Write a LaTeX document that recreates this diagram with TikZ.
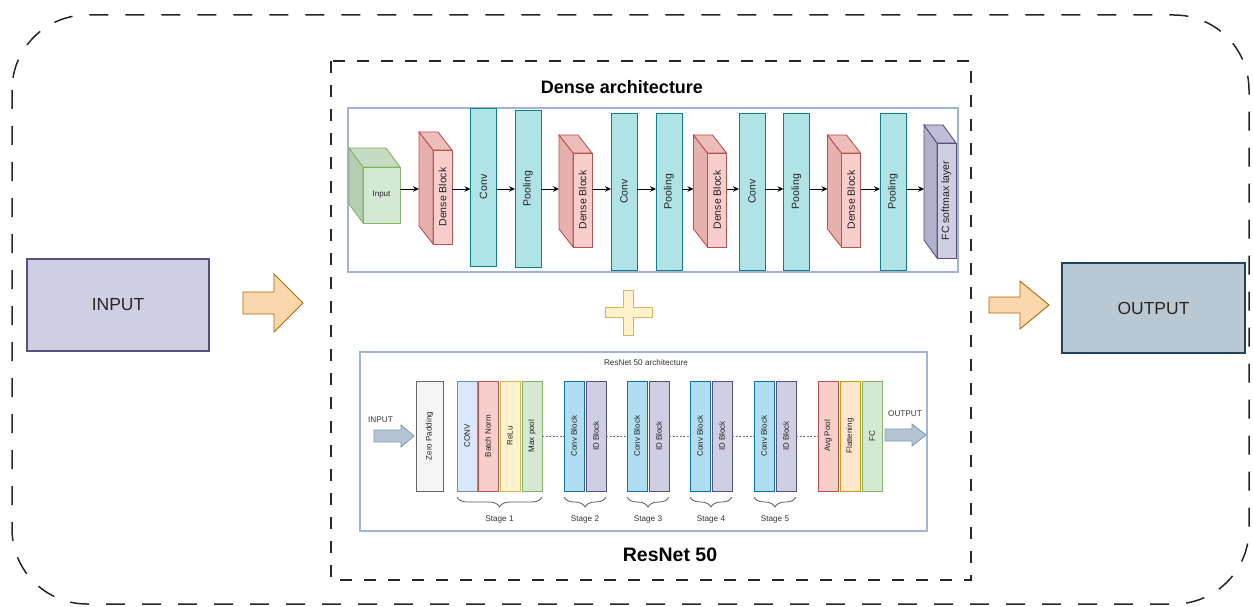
\documentclass[tikz,border=0pt]{standalone}
\usepackage{fontspec}
\setmainfont{Liberation Sans}
\usetikzlibrary{arrows.meta,calc,decorations.pathreplacing}

\definecolor{dbFill}{HTML}{F8CECC}\definecolor{dbLine}{HTML}{B85450}
\definecolor{dbSide}{HTML}{E6B0AD}\definecolor{dbTop}{HTML}{EDBDBA}
\definecolor{grnFill}{HTML}{D5E8D4}\definecolor{grnLine}{HTML}{82B366}
\definecolor{grnSide}{HTML}{B7CDB2}\definecolor{grnTop}{HTML}{C6DCC2}
\definecolor{purFill}{HTML}{D0CEE2}\definecolor{purLine}{HTML}{56517E}
\definecolor{purSide}{HTML}{B3B0CC}\definecolor{purTop}{HTML}{C0BDD8}
\definecolor{tealFill}{HTML}{B0E3E6}\definecolor{tealLine}{HTML}{0E8088}
\definecolor{slateFill}{HTML}{BAC8D3}\definecolor{slateLine}{HTML}{23445D}
\definecolor{orgFill}{HTML}{FAD7AC}\definecolor{orgLine}{HTML}{B46504}
\definecolor{ylwFill}{HTML}{FFF2CC}\definecolor{ylwLine}{HTML}{D6B656}
\definecolor{bluFill}{HTML}{DAE8FC}\definecolor{bluLine}{HTML}{6C8EBF}
\definecolor{cyanFill}{HTML}{B1DDF0}\definecolor{cyanLine}{HTML}{10739E}
\definecolor{greyFill}{HTML}{F5F5F5}\definecolor{greyLine}{HTML}{666666}
\definecolor{peachFill}{HTML}{FFE6CC}\definecolor{peachLine}{HTML}{D79B00}
\definecolor{panelLine}{HTML}{9DB5D8}
\definecolor{arrowFill}{HTML}{B4C4D2}\definecolor{arrowLine}{HTML}{7D97AD}
\definecolor{txt}{HTML}{222222}

\tikzset{
  outerframe/.style={draw=black!85, line width=1.5pt, dash pattern=on 19pt off 17pt, rounded corners=75pt},
  innerframe/.style={draw=black!85, line width=1.3pt, dash pattern=on 12pt off 12pt},
  panel/.style={draw=panelLine, line width=1.1pt},
  face/.style={rectangle, inner sep=0pt, outer sep=0pt, line width=0.9pt, text=txt,
    font=\fontsize{10.5}{12}\selectfont},
  slab/.style={face, fill=tealFill, draw=tealLine, minimum width=26},
  rblk/.style={rectangle, inner sep=0pt, outer sep=0pt, line width=0.8pt, text=txt,
    minimum width=20, minimum height=110, font=\fontsize{8}{9}\selectfont},
  bigbox/.style={rectangle, inner sep=0pt, outer sep=0pt, line width=1.1pt, text=black!85,
    font=\fontsize{17.5}{20}\selectfont},
  arr/.style={draw=black, line width=0.9pt, -{Stealth[length=6pt,width=5.5pt]}},
  dots/.style={draw=black!55, line width=0.8pt, dash pattern=on 2pt off 1.5pt},
  brc/.style={draw=black!65, line width=0.8pt, decorate,
    decoration={brace, mirror, amplitude=10pt}},
  small/.style={text=black!80, font=\fontsize{8.2}{10}\selectfont, inner sep=0pt},
  title/.style={text=black, font=\fontsize{18}{21}\bfseries\selectfont, inner sep=0pt},
}

% #1 name, #2 centre, #3 width, #4 height, #5 depth offset, #6 colour prefix, #7 text
\newcommand\cuboid[7]{%
  \node[face, fill=#6Fill, draw=#6Line, minimum width=#3, minimum height=#4] (#1) at (#2) {#7};
  \draw[face, fill=#6Side, draw=#6Line] (#1.north west) -- ($(#1.north west)+(#5)$)
    -- ($(#1.south west)+(#5)$) -- (#1.south west) -- cycle;
  \draw[face, fill=#6Top, draw=#6Line] (#1.north west) -- ($(#1.north west)+(#5)$)
    -- ($(#1.north east)+(#5)$) -- (#1.north east) -- cycle;
  \coordinate (#1-back) at ($(#1.west)+(#5)$);
}

\begin{document}
\begin{tikzpicture}[x=1pt, y=-1pt]
\useasboundingbox (0,0) rectangle (1253,607);

% frames
\draw[outerframe] (12,15) rectangle (1249,604);
\draw[innerframe] (331,61) rectangle (971,580);

% input and output
\node[bigbox, fill=purFill, draw=purLine, minimum width=182, minimum height=92] (in) at (118,305) {INPUT};
\node[bigbox, fill=slateFill, draw=slateLine, minimum width=183, minimum height=90] (out) at (1153.5,308) {OUTPUT};

\draw[fill=orgFill, draw=orgLine, line width=0.9pt, line join=miter]
  (243,292) -- (274,292) -- (274,274) -- (303,303) -- (274,332) -- (274,314) -- (243,314) -- cycle;
\draw[fill=orgFill, draw=orgLine, line width=0.9pt, line join=miter]
  (989,297) -- (1020,297) -- (1020,281) -- (1049,305) -- (1020,329) -- (1020,313) -- (989,313) -- cycle;

% plus sign
\draw[fill=ylwFill, draw=ylwLine, line width=0.9pt]
  (623,290) -- (633,290) -- (633,307) -- (652,307) -- (652,317) -- (633,317) -- (633,335)
  -- (623,335) -- (623,317) -- (605,317) -- (605,307) -- (623,307) -- cycle;

% ---------------- Dense architecture ----------------
\node[title] (dtitle) at (622,87) {Dense architecture};
\draw[panel] (348,108) rectangle (958,272);

\cuboid{inp}{381.5,195}{37}{56}{-14,-19}{grn}{\fontsize{8}{10}\selectfont Input}
\cuboid{db1}{442.5,197}{19}{94}{-14,-18}{db}{\rotatebox{90}{Dense Block}}
\node[slab, minimum height=158] (conv1) at (483.5,187) {\rotatebox{90}{Conv}};
\node[slab, minimum height=157] (pool1) at (528,188.5) {\rotatebox{90}{Pooling}};
\cuboid{db2}{582.5,200}{19}{94}{-14,-18}{db}{\rotatebox{90}{Dense Block}}
\node[slab, minimum height=157] (conv2) at (624,191.5) {\rotatebox{90}{Conv}};
\node[slab, minimum height=157] (pool2) at (669,191.5) {\rotatebox{90}{Pooling}};
\cuboid{db3}{717,200}{19}{94}{-14,-18}{db}{\rotatebox{90}{Dense Block}}
\node[slab, minimum height=157] (conv3) at (752,191.5) {\rotatebox{90}{Conv}};
\node[slab, minimum height=157] (pool3) at (796.5,191.5) {\rotatebox{90}{Pooling}};
\cuboid{db4}{851,200}{19}{94}{-14,-18}{db}{\rotatebox{90}{Dense Block}}
\node[slab, minimum height=157] (pool4) at (893,191.5) {\rotatebox{90}{Pooling}};
\cuboid{fc}{946.5,200.5}{19}{115}{-13,-18}{pur}{\rotatebox{90}{FC softmax layer}}

\coordinate (row) at (0,189);
\draw[arr] (inp.east |- row) -- (db1-back |- row);
\draw[arr] (db1.east |- row) -- (conv1.west |- row);
\draw[arr] (conv1.east |- row) -- (pool1.west |- row);
\draw[arr] (pool1.east |- row) -- (db2-back |- row);
\draw[arr] (db2.east |- row) -- (conv2.west |- row);
\draw[arr] (conv2.east |- row) -- (pool2.west |- row);
\draw[arr] (pool2.east |- row) -- (db3-back |- row);
\draw[arr] (db3.east |- row) -- (conv3.west |- row);
\draw[arr] (conv3.east |- row) -- (pool3.west |- row);
\draw[arr] (pool3.east |- row) -- (db4-back |- row);
\draw[arr] (db4.east |- row) -- (pool4.west |- row);
\draw[arr] (pool4.east |- row) -- (fc-back |- row);

% ---------------- ResNet 50 ----------------
\draw[panel] (360,352) rectangle (927,531);
\node[small] (rtitle) at (646,363) {ResNet 50 architecture};
\node[title, font=\fontsize{19.5}{22}\bfseries\selectfont] (btitle) at (670,555) {ResNet 50};

\node[small] (rin) at (380.5,420) {INPUT};
\draw[fill=arrowFill, draw=arrowLine, line width=0.8pt]
  (374,430) -- (401,430) -- (401,425) -- (414,436) -- (401,447) -- (401,442) -- (374,442) -- cycle;
\node[small] (rout) at (905,414) {OUTPUT};
\draw[fill=arrowFill, draw=arrowLine, line width=0.8pt]
  (885,429) -- (912,429) -- (912,424) -- (926,435) -- (912,446) -- (912,441) -- (885,441) -- cycle;

\node[rblk, fill=greyFill, draw=greyLine, minimum width=27] (zp) at (429.5,436) {\rotatebox{90}{Zero Padding}};
\node[rblk, fill=bluFill, draw=bluLine] (rconv) at (467,436) {\rotatebox{90}{CONV}};
\node[rblk, fill=dbFill, draw=dbLine] (rbn) at (488,436) {\rotatebox{90}{Batch Norm}};
\node[rblk, fill=ylwFill, draw=ylwLine] (rrelu) at (510,436) {\rotatebox{90}{ReLu}};
\node[rblk, fill=grnFill, draw=grnLine] (rmax) at (532,436) {\rotatebox{90}{Max pool}};

\node[rblk, fill=cyanFill, draw=cyanLine] (cb2) at (574,436) {\rotatebox{90}{Conv Block}};
\node[rblk, fill=purFill, draw=purLine] (id2) at (596,436) {\rotatebox{90}{ID Block}};
\node[rblk, fill=cyanFill, draw=cyanLine] (cb3) at (637,436) {\rotatebox{90}{Conv Block}};
\node[rblk, fill=purFill, draw=purLine] (id3) at (659,436) {\rotatebox{90}{ID Block}};
\node[rblk, fill=cyanFill, draw=cyanLine] (cb4) at (700,436) {\rotatebox{90}{Conv Block}};
\node[rblk, fill=purFill, draw=purLine] (id4) at (722,436) {\rotatebox{90}{ID Block}};
\node[rblk, fill=cyanFill, draw=cyanLine] (cb5) at (764,436) {\rotatebox{90}{Conv Block}};
\node[rblk, fill=purFill, draw=purLine] (id5) at (786,436) {\rotatebox{90}{ID Block}};

\node[rblk, fill=dbFill, draw=dbLine] (avg) at (828,436) {\rotatebox{90}{Avg Pool}};
\node[rblk, fill=peachFill, draw=peachLine] (flat) at (850,436) {\rotatebox{90}{Flattening}};
\node[rblk, fill=grnFill, draw=grnLine] (rfc) at (872,436) {\rotatebox{90}{FC}};

\draw[dots] (rmax.east) -- (cb2.west);
\draw[dots] (id2.east) -- (cb3.west);
\draw[dots] (id3.east) -- (cb4.west);
\draw[dots] (id4.east) -- (cb5.west);
\draw[dots] (id5.east) -- (avg.west);

% stage braces
\draw[brc] ($(rconv.south west)+(0,6)$) -- ($(rmax.south east)+(0,6)$);
\node[small] (st1) at ($(rconv.south west)!0.5!(rmax.south east)+(0,28)$) {Stage 1};
\draw[brc] ($(cb2.south west)+(0,6)$) -- ($(id2.south east)+(0,6)$);
\node[small] (st2) at ($(cb2.south west)!0.5!(id2.south east)+(0,28)$) {Stage 2};
\draw[brc] ($(cb3.south west)+(0,6)$) -- ($(id3.south east)+(0,6)$);
\node[small] (st3) at ($(cb3.south west)!0.5!(id3.south east)+(0,28)$) {Stage 3};
\draw[brc] ($(cb4.south west)+(0,6)$) -- ($(id4.south east)+(0,6)$);
\node[small] (st4) at ($(cb4.south west)!0.5!(id4.south east)+(0,28)$) {Stage 4};
\draw[brc] ($(cb5.south west)+(0,6)$) -- ($(id5.south east)+(0,6)$);
\node[small] (st5) at ($(cb5.south west)!0.5!(id5.south east)+(0,28)$) {Stage 5};
\end{tikzpicture}
\end{document}
